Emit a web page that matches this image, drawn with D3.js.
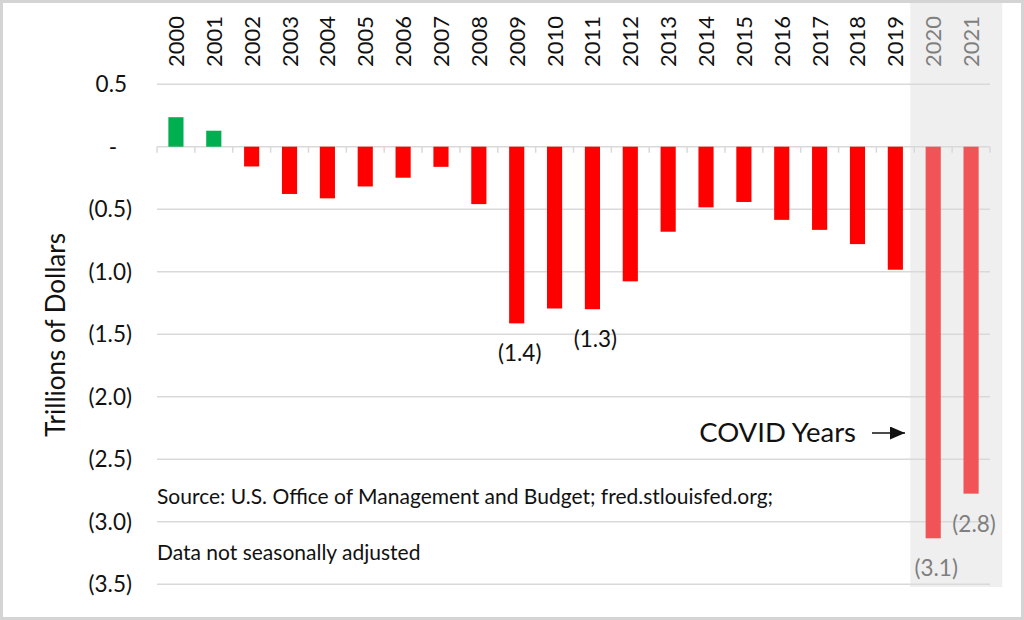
<!DOCTYPE html>
<html><head><meta charset="utf-8">
<script src="https://cdn.jsdelivr.net/npm/d3@7"></script>
<style>
html,body{margin:0;padding:0;background:#fff;}
svg{display:block;font-family:Lato,"Open Sans",sans-serif;}
</style></head>
<body><svg id="c" width="1024" height="620"></svg>
<script>
const years = ["2000","2001","2002","2003","2004","2005","2006","2007","2008","2009","2010","2011","2012","2013","2014","2015","2016","2017","2018","2019","2020","2021"];
const balance = [0.236,0.128,-0.158,-0.378,-0.413,-0.318,-0.248,-0.161,-0.459,-1.413,-1.294,-1.300,-1.077,-0.680,-0.485,-0.442,-0.585,-0.665,-0.779,-0.984,-3.132,-2.775];
const covidYears = ["2020","2021"];
const yTicks = [0.5,0,-0.5,-1.0,-1.5,-2.0,-2.5,-3.0,-3.5];
const labelYears = ["2009","2011","2020","2021"];
const labelTexts = ["(1.4)","(1.3)","(3.1)","(2.8)"];
const yTitle = "Trillions of Dollars";
const sourceLines = ["Source: U.S. Office of Management and Budget; fred.stlouisfed.org;","Data not seasonally adjusted"];
const covidNote = "COVID Years";

const svg = d3.select("#c");
const L = 157, R = 990;
const x = d3.scaleBand().domain(years).range([L, R]).paddingInner(0.6).paddingOuter(0.3);
const y = d3.scaleLinear().domain([-3.5, 0.5]).range([584.3, 84.2]);
const step = x.step();
const slotStart = d => x(d) - step * 0.3;

// border
svg.append("rect").attr("x",1.5).attr("y",1.5).attr("width",1021).attr("height",617)
  .attr("fill","#fff").attr("stroke","#d4d4d4").attr("stroke-width",3);

// covid shading
svg.append("rect").attr("x", slotStart("2020") - 4).attr("y", 3)
  .attr("width", 92).attr("height", 584).attr("fill","#efefef");

// gridlines
svg.append("g").selectAll("line").data(yTicks).join("line")
  .attr("x1",L).attr("x2",R).attr("y1",d=>y(d)).attr("y2",d=>y(d))
  .attr("stroke","#d9d9d9").attr("stroke-width",1.5);

// zero axis tick marks
svg.append("g").selectAll("line").data(years.concat(["end"])).join("line")
  .attr("x1",(d,i)=>L+i*step).attr("x2",(d,i)=>L+i*step)
  .attr("y1",y(0)).attr("y2",y(0)+6).attr("stroke","#d9d9d9").attr("stroke-width",1.5);

// bars
svg.append("g").selectAll("rect").data(years).join("rect")
  .attr("x",d=>x(d)).attr("width",x.bandwidth())
  .attr("y",(d,i)=>y(Math.max(0,balance[i])))
  .attr("height",(d,i)=>Math.abs(y(balance[i])-y(0)))
  .attr("fill",(d,i)=> covidYears.includes(d) ? "#f05456" : (balance[i] > 0 ? "#00b050" : "#ff0000"));

// y tick labels
const fmt = v => v > 0 ? v.toFixed(1) : (v === 0 ? "-" : "(" + Math.abs(v).toFixed(1) + ")");
svg.append("g").selectAll("text").data(yTicks).join("text")
  .attr("x", d => d < 0 ? 132 : (d === 0 ? 117 : 127))
  .attr("y", d => y(d)).attr("dy","0.35em")
  .attr("text-anchor","end").attr("font-size",22.5).attr("fill","#111")
  .text(fmt);

// year labels (rotated)
svg.append("g").selectAll("text").data(years).join("text")
  .attr("transform", d => `translate(${x(d)+x.bandwidth()/2+8},67) rotate(-90)`)
  .attr("text-anchor","start").attr("font-size",22)
  .attr("fill", d => covidYears.includes(d) ? "#7f7f7f" : "#111")
  .text(d => d);

// y title
svg.append("text").attr("transform","translate(65,335) rotate(-90)")
  .attr("text-anchor","middle").attr("font-size",26).attr("fill","#111").text(yTitle);

// data labels
svg.append("g").selectAll("text").data(labelYears).join("text")
  .attr("x", d => x(d)+x.bandwidth()/2+3)
  .attr("y", (d) => y(balance[years.indexOf(d)]) + 30).attr("dy","0.35em")
  .attr("text-anchor","middle").attr("font-size",22.5)
  .attr("fill", d => covidYears.includes(d) ? "#7f7f7f" : "#111")
  .text((d,i) => labelTexts[i]);

// source
svg.append("g").selectAll("text").data(sourceLines).join("text")
  .attr("x", L).attr("y",(d,i)=> 497 + i*56).attr("dy","0.35em")
  .attr("font-size",21).attr("fill","#111").text(d=>d);

// covid note + arrow
svg.append("text").attr("x",856).attr("y",432).attr("dy","0.35em").attr("text-anchor","end")
  .attr("font-size",27.5).attr("fill","#111").text(covidNote);
svg.append("defs").append("marker").attr("id","ah").attr("viewBox","0 0 10 10")
  .attr("refX",10).attr("refY",5).attr("markerWidth",15).attr("markerHeight",13)
  .attr("markerUnits","userSpaceOnUse").attr("orient","auto").attr("preserveAspectRatio","none")
  .append("path").attr("d","M0,0L10,5L0,10z").attr("fill","#111");
svg.append("line").attr("x1",872).attr("x2",905).attr("y1",433).attr("y2",433)
  .attr("stroke","#111").attr("stroke-width",1.5).attr("marker-end","url(#ah)");
</script></body></html>
